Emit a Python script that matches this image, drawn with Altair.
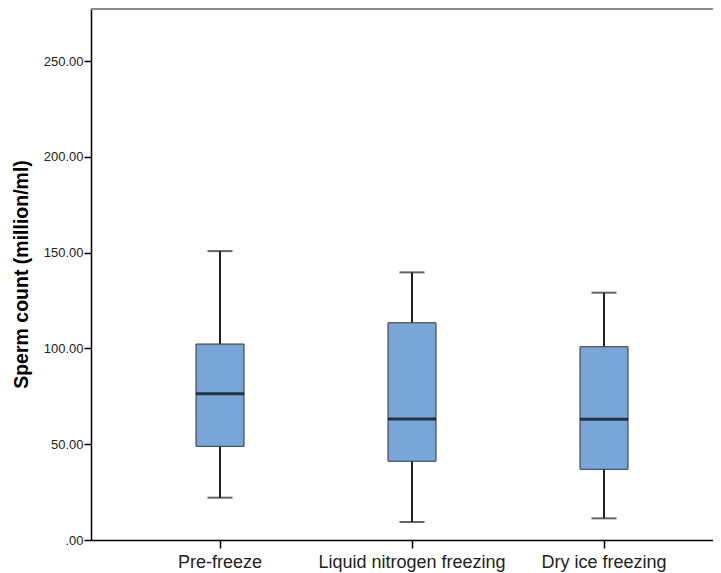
import altair as alt
import pandas as pd

categories = ["Pre-freeze", "Liquid nitrogen freezing", "Dry ice freezing"]
lower = [22.1, 9.4, 11.3]
q1 = [48.9, 41.1, 36.9]
median = [76.4, 63.2, 63.0]
q3 = [102.3, 113.4, 100.9]
upper = [150.8, 139.7, 129.1]
y_ticks = [0, 50, 100, 150, 200, 250]

df = pd.DataFrame({"cat": categories, "lower": lower, "q1": q1,
                   "median": median, "q3": q3, "upper": upper})

FONT = "Liberation Sans"
xscale = alt.Scale(domain=categories, range=[0, 642], paddingOuter=0.171875, paddingInner=0)
yscale = alt.Scale(domain=[0, 277.7], nice=False, zero=True)

xenc = alt.X("cat:N", scale=xscale, sort=categories, title=None,
             axis=alt.Axis(labelAngle=0, labelFont=FONT, labelFontSize=18, labelColor="#222",
                           labelLimit=0, domainColor="#000", domainWidth=1.5, tickColor="#000",
                           tickWidth=1.5, tickSize=8, labelPadding=5, grid=False))
yaxis = alt.Axis(values=y_ticks, labelExpr="datum.value === 0 ? '.00' : format(datum.value, '.2f')",
                 labelFont=FONT, labelFontSize=13, labelColor="#222", domainColor="#000",
                 domainWidth=1.5, tickColor="#000", tickWidth=1.5, tickSize=7, labelPadding=1,
                 grid=False, titleFont=FONT, titleFontSize=19.5, titleFontWeight="bold",
                 titleColor="#000", titlePadding=12)

base = alt.Chart(df)

whisk_lo = base.mark_rule(color="#222", strokeWidth=2).encode(
    x=xenc, y=alt.Y("lower:Q", scale=yscale, axis=yaxis, title="Sperm count (million/ml)"), y2="q1:Q")
whisk_hi = base.mark_rule(color="#222", strokeWidth=2).encode(
    x=alt.X("cat:N", scale=xscale, sort=categories), y=alt.Y("q3:Q", scale=yscale), y2="upper:Q")
box = base.mark_bar(size=48, color="#79a6d8", stroke="#333", strokeWidth=1).encode(
    x=alt.X("cat:N", scale=xscale, sort=categories), y=alt.Y("q1:Q", scale=yscale), y2="q3:Q")
med = base.mark_tick(orient="horizontal", size=48, thickness=3, color="#000").encode(
    x=alt.X("cat:N", scale=xscale, sort=categories), y=alt.Y("median:Q", scale=yscale))
cap_lo = base.mark_tick(orient="horizontal", size=25, thickness=2, color="#222").encode(
    x=alt.X("cat:N", scale=xscale, sort=categories), y=alt.Y("lower:Q", scale=yscale))
cap_hi = base.mark_tick(orient="horizontal", size=25, thickness=2, color="#222").encode(
    x=alt.X("cat:N", scale=xscale, sort=categories), y=alt.Y("upper:Q", scale=yscale))
top_border = alt.Chart(pd.DataFrame({"a": [0]})).mark_rule(color="#8c8c8c", strokeWidth=2).encode(
    x=alt.value(0), x2=alt.value(640), y=alt.value(1))

chart = alt.layer(whisk_lo, whisk_hi, box, med, cap_lo, cap_hi, top_border).properties(
    width=622, height=532,
    autosize=alt.AutoSizeParams(type="none"),
    padding={"left": 83, "top": 0, "right": 0, "bottom": 33},
).configure_view(stroke=None).configure(background="white")

chart.save("out.html", embed_options={"renderer": "svg", "actions": False})
